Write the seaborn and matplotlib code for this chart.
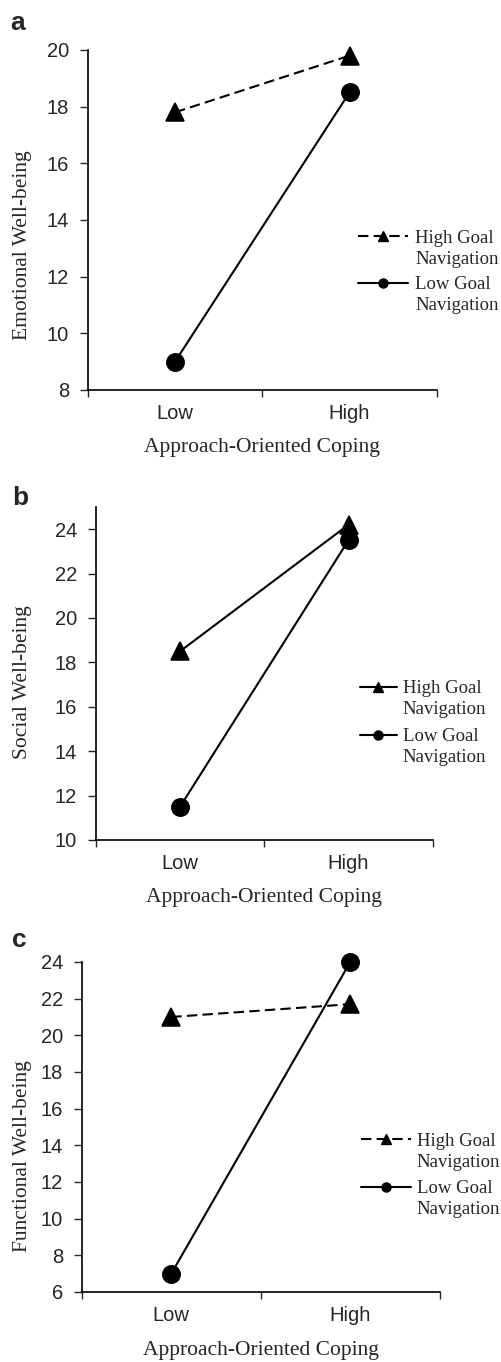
import pandas as pd
import matplotlib.pyplot as plt
import seaborn as sns
from matplotlib.lines import Line2D
from matplotlib.legend import Legend

# Values
coping_levels = ['Low', 'High']
group_names = ['High Goal Navigation', 'Low Goal Navigation']

emotional_high = [17.8, 19.8]
emotional_low = [9.0, 18.5]
social_high = [18.5, 24.2]
social_low = [11.5, 23.5]
functional_high = [21.0, 21.7]
functional_low = [7.0, 24.0]

y_ticks_a = list(range(8, 21, 2))
y_ticks_b = list(range(10, 25, 2))
y_ticks_c = list(range(6, 25, 2))

DASH = (0, (5, 2.5))
SERIF = 'Liberation Serif'
SANS = 'Liberation Sans'


def make_frame(high, low):
    rows = []
    for lvl, h, l in zip(coping_levels, high, low):
        rows.append({'coping': lvl, 'group': group_names[0], 'value': h})
        rows.append({'coping': lvl, 'group': group_names[1], 'value': l})
    return pd.DataFrame(rows)


def add_legend(ax, handle, first_line, anchor, handlelength, textpad):
    # one small legend per series so the handle sits on the first text line
    blank = Line2D([], [], ls='none')
    leg = Legend(ax, [handle, blank], [first_line, 'Navigation'],
                 loc='upper left', bbox_to_anchor=anchor, frameon=False,
                 borderpad=0, borderaxespad=0, handlelength=handlelength,
                 handletextpad=textpad, labelspacing=0.2,
                 prop={'family': SERIF, 'size': 13.5})
    ax.add_artist(leg)


def draw_panel(fig, rect, df, high_style, ylabel, yticks, ylim,
               letter, letter_pos, ylabel_pos, xlabel_y, legend_x, legend_y,
               handlelength, textpad):
    ax = fig.add_axes(rect)
    sns.pointplot(data=df, x='coping', y='value', hue='group',
                  order=coping_levels, hue_order=group_names,
                  palette=['black', 'black'], markers=['^', 'o'],
                  linestyles=[high_style, '-'], errorbar=None,
                  legend=False, linewidth=1.5, markersize=12.5, ax=ax)
    for line in ax.lines:
        line.set_clip_on(False)

    # category labels sit between the major ticks
    ax.set_xlim(-0.5, 1.5)
    ax.set_xticks([-0.5, 0.5, 1.5])
    ax.set_xticklabels([])
    ax.set_xticks([0, 1], minor=True)
    ax.set_xticklabels(coping_levels, minor=True, family=SANS, fontsize=14.5)
    ax.tick_params(axis='x', which='minor', length=0, pad=10)
    ax.tick_params(axis='x', which='major', length=5, width=1, direction='out')

    ax.set_ylim(*ylim)
    ax.set_yticks(yticks)
    ax.set_yticklabels([str(t) for t in yticks], family=SANS, fontsize=14.5)
    ax.tick_params(axis='y', length=5.5, width=1, pad=8, direction='out')

    sns.despine(ax=ax)
    for s in ['left', 'bottom']:
        ax.spines[s].set_linewidth(1.2)
        ax.spines[s].set_color('black')

    ax.set_xlabel('Approach-Oriented Coping', family=SERIF, fontsize=15.5, va='center')
    ax.xaxis.set_label_coords(0.5, xlabel_y)
    ax.set_ylabel(ylabel, family=SERIF, fontsize=15.5, va='center')
    ax.yaxis.set_label_coords(*ylabel_pos)

    h_high = Line2D([], [], color='black', lw=1.5, ls=high_style, marker='^', ms=7.5)
    h_low = Line2D([], [], color='black', lw=1.5, ls='-', marker='o', ms=6.5)
    add_legend(ax, h_high, 'High Goal', (legend_x, legend_y[0]), handlelength, textpad)
    add_legend(ax, h_low, 'Low Goal', (legend_x, legend_y[1]), handlelength, textpad)

    fig.text(letter_pos[0], letter_pos[1], letter, family=SANS,
             fontweight='bold', fontsize=19, va='baseline')
    return ax


def main():
    sns.set_theme(style='ticks')
    plt.rcParams['font.family'] = [SANS, 'DejaVu Sans']
    plt.rcParams['figure.facecolor'] = 'white'
    plt.rcParams['axes.facecolor'] = 'white'

    fig = plt.figure(figsize=(5.02, 13.62), dpi=100)

    draw_panel(fig, [0.175, 0.7137, 0.695, 0.2496],
               make_frame(emotional_high, emotional_low), DASH,
               'Emotional Well-being', y_ticks_a, (8, 20),
               'a', (0.02, 0.978), (-0.186, 0.426), -0.17,
               0.774, (0.471, 0.335), 2.65, 0.4)
    draw_panel(fig, [0.191, 0.3833, 0.671, 0.2445],
               make_frame(social_high, social_low), '-',
               'Social Well-being', y_ticks_b, (10, 25),
               'b', (0.024, 0.629), (-0.217, 0.474), -0.174,
               0.783, (0.480, 0.336), 2.0, 0.3)
    draw_panel(fig, [0.163, 0.0514, 0.713, 0.2423],
               make_frame(functional_high, functional_low), DASH,
               'Functional Well-being', y_ticks_c, (6, 24),
               'c', (0.024, 0.305), (-0.165, 0.412), -0.176,
               0.779, (0.482, 0.339), 2.7, 0.3)

    fig.savefig('out.png', dpi=100)


if __name__ == '__main__':
    main()
